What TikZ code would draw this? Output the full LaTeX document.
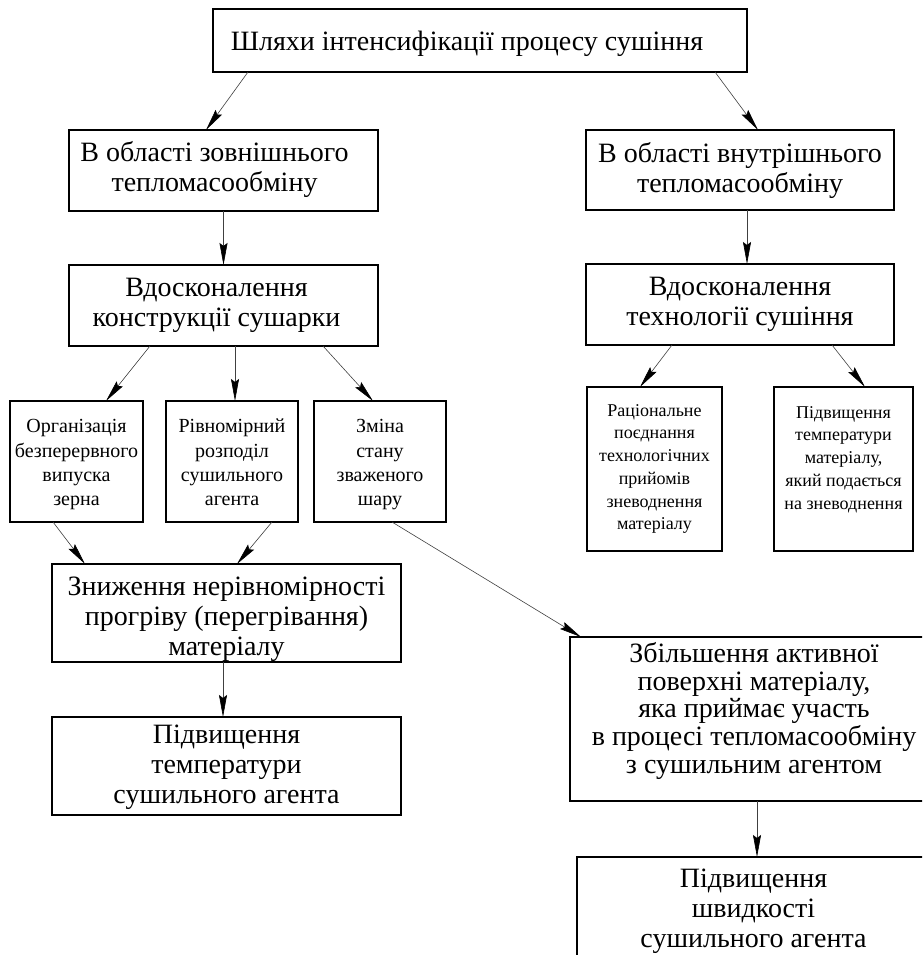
\documentclass[tikz,border=0pt]{standalone}
\usepackage{fontspec}
\setmainfont{Liberation Serif}
\usetikzlibrary{arrows.meta,calc}
\newcommand{\shiftbox}[3]{\hspace*{#1}\raisebox{#2}[\height][\depth]{\begin{tabular}{@{}c@{}}#3\end{tabular}}\hspace*{-#1}}
\tikzset{
  box/.style={draw, line width=1.6pt, inner sep=0pt, outer sep=0pt, align=center, fill=white},
  big/.style={font=\fontsize{28}{30}\selectfont},
  mid/.style={font=\fontsize{28}{27.3}\selectfont},
  small/.style={font=\fontsize{20}{24.3}\selectfont},
  tiny/.style={font=\fontsize{18}{22.7}\selectfont},
  conn/.style={draw=black!75, line width=0.6pt, -{Stealth[length=22pt,width=8pt,inset=3pt,black]}}
}
\begin{document}
\begin{tikzpicture}[x=1pt,y=-1pt]
\useasboundingbox (0,0) rectangle (922,955);
\clip (0,0) rectangle (922,955);
\fill[white] (0,0) rectangle (922,955);

\node[box,big,minimum width=534pt,minimum height=63pt] (top) at (480,40.5) {\shiftbox{-13pt}{-4pt}{Шляхи інтенсифікації процесу сушіння}};
\node[box,big,minimum width=309pt,minimum height=81pt] (L2) at (223.5,170.5) {\shiftbox{-9pt}{0pt}{В області зовнішнього\\тепломасообміну}};
\node[box,big,minimum width=308pt,minimum height=80pt] (R2) at (740,170) {В області внутрішнього\\тепломасообміну};
\node[box,big,minimum width=309pt,minimum height=81pt] (L3) at (223.5,305.5) {\shiftbox{-7pt}{0pt}{Вдосконалення\\конструкції сушарки}};
\node[box,big,minimum width=308pt,minimum height=81pt] (R3) at (740,304.5) {Вдосконалення\\технології сушіння};

\node[box,small,minimum width=133pt,minimum height=121pt] (S1) at (76.5,461.5) {\shiftbox{0pt}{-3pt}{Організація\\безперервного\\випуска\\зерна}};
\node[box,small,minimum width=132pt,minimum height=121pt] (S2) at (232,461.5) {\shiftbox{0pt}{-3pt}{Рівномірний\\розподіл\\сушильного\\агента}};
\node[box,small,minimum width=132pt,minimum height=121pt] (S3) at (380,461.5) {\shiftbox{0pt}{-3pt}{Зміна\\стану\\зваженого\\шару}};

\node[box,tiny,minimum width=135pt,minimum height=164pt] (RA) at (654.5,469) {Раціональне\\поєднання\\технологічних\\прийомів\\зневоднення\\матеріалу};
\node[box,tiny,minimum width=139pt,minimum height=164pt] (RB) at (843.5,469) {Підвищення\\температури\\матеріалу,\\який подається\\на зневоднення\\\mbox{}};

\node[box,big,minimum width=349pt,minimum height=98pt] (Z) at (226.5,613) {\shiftbox{0pt}{-6pt}{Зниження нерівномірності\\прогріву (перегрівання)\\матеріалу}};
\node[box,big,minimum width=349pt,minimum height=98pt] (PT) at (226.5,766) {\shiftbox{0pt}{-1pt}{Підвищення\\температури\\сушильного агента}};

\node[box,mid,minimum width=368pt,minimum height=164pt] (ZB) at (754,719) {\shiftbox{0pt}{7pt}{Збільшення активної\\поверхні матеріалу,\\яка приймає участь\\в процесі тепломасообміну\\з сушильним агентом}};
\node[box,big,minimum width=353pt,minimum height=104pt] (PS) at (753.5,909) {\shiftbox{0pt}{-2pt}{Підвищення\\швидкості\\сушильного агента}};

\draw[conn] ([xshift=35pt]top.south west) -- ([xshift=137pt]L2.north west);
\draw[conn] ([xshift=502pt]top.south west) -- ([xshift=172pt]R2.north west);
\draw[conn] (L2.south) -- (L3.north);
\draw[conn] ([xshift=161pt]R2.south west) -- ([xshift=161pt]R3.north west);
\draw[conn] ([xshift=81pt]L3.south west) -- ([xshift=96pt]S1.north west);
\draw[conn] ([xshift=166pt]L3.south west) -- ([xshift=69pt]S2.north west);
\draw[conn] ([xshift=254pt]L3.south west) -- ([xshift=59pt]S3.north west);
\draw[conn] ([xshift=86pt]R3.south west) -- ([xshift=53pt]RA.north west);
\draw[conn] ([xshift=246pt]R3.south west) -- ([xshift=91pt]RB.north west);
\draw[conn] ([xshift=43pt]S1.south west) -- ([xshift=33pt]Z.north west);
\draw[conn] ([xshift=106pt]S2.south west) -- ([xshift=185pt]Z.north west);
\draw[conn] ([xshift=78pt]S3.south west) -- ([xshift=11pt]ZB.north west);
\draw[conn] ([xshift=171pt]Z.south west) -- ([xshift=171pt]PT.north west);
\draw[conn] ([xshift=187pt]ZB.south west) -- ([xshift=180pt]PS.north west);
\end{tikzpicture}
\end{document}
